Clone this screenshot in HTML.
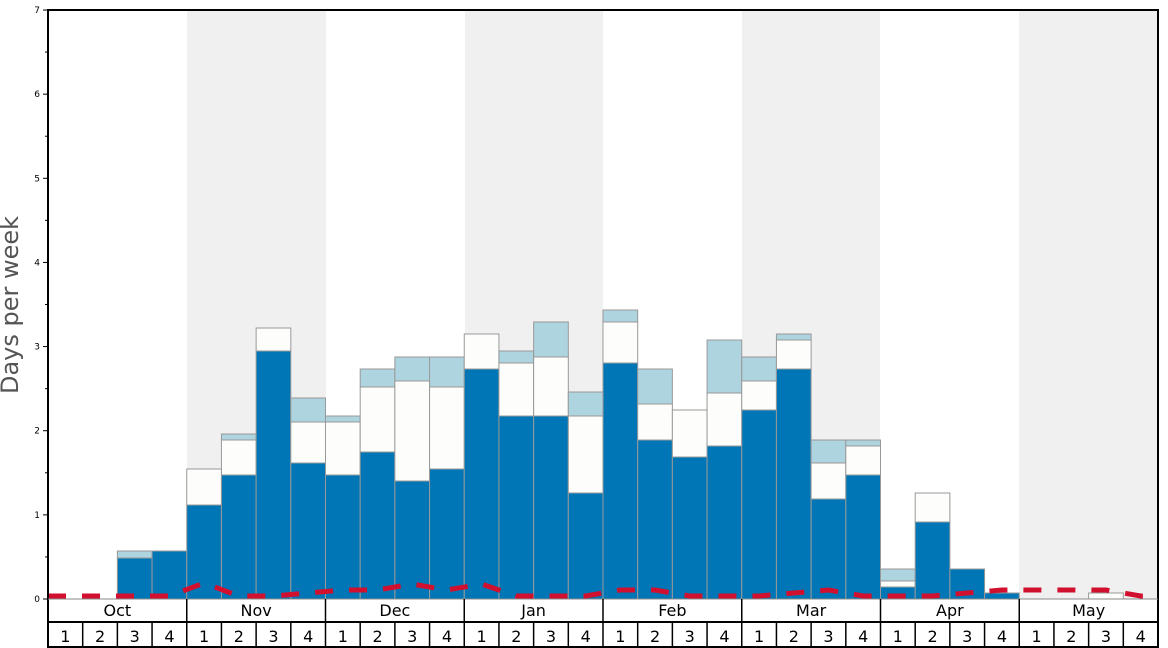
<!DOCTYPE html>
<html><head><meta charset="utf-8"><style>body{margin:0;background:#fff}svg{display:block}</style></head>
<body>
<svg width="1168" height="648" xmlns="http://www.w3.org/2000/svg" font-family="DejaVu Sans, Liberation Sans, sans-serif">
<rect width="1168" height="648" fill="#fff"/>
<g fill="#f0f0f0">
<rect x="187" y="10" width="139" height="589"/>
<rect x="465" y="10" width="138" height="589"/>
<rect x="742" y="10" width="138" height="589"/>
<rect x="1019" y="10" width="139" height="589"/>
</g>
<g id="bars" stroke="#999" stroke-width="1"></g>
<polyline id="red" fill="none" stroke="#d0102e" stroke-width="5" stroke-dasharray="18,16"/>
<rect x="48" y="10" width="1110" height="637" fill="none" stroke="#000" stroke-width="2"/>
<line x1="48" y1="599" x2="1158" y2="599" stroke="#888" stroke-width="1"/>
<line x1="48" y1="622" x2="1158" y2="622" stroke="#000" stroke-width="2"/>
<g id="grid" stroke="#000"></g>
<g id="txt" font-size="16" fill="#000" text-anchor="middle"></g>
<g id="yax" font-size="9" fill="#000" text-anchor="end"></g>
<text x="18" y="305" font-size="24" fill="#555" text-anchor="middle" transform="rotate(-90 18 305)">Days per week</text>
</svg>
<script>
var ns="http://www.w3.org/2000/svg";
function el(p,t,a,tx){var e=document.createElementNS(ns,t);for(var k in a)e.setAttribute(k,a[k]);if(tx)e.textContent=tx;document.getElementById(p).appendChild(e);}
var W=1110/32;
var d=[[0,0,0],[0,0,0],[558,558,551],[551,551,551],[505,469,469],[475,440,434],[351,328,328],[463,422,398],
[475,422,416],[452,387,369],[481,381,357],[469,387,357],[369,334,334],[416,363,351],[416,357,322],[493,416,392],
[363,322,310],[440,404,369],[457,410,410],[446,393,340],[410,381,357],[369,340,334],[499,463,440],[475,446,440],
[587,581,569],[522,493,493],[569,569,569],[593,593,593],[0,0,0],[0,0,0],[599,593,593],[0,0,0]];
for(var i=0;i<32;i++){var x=48+i*W,b=d[i];if(!b[0])continue;
if(b[2]<b[1])el("bars","rect",{x:x,y:b[2],width:W,height:b[1]-b[2],fill:"#aed4e0"});
if(b[1]<b[0])el("bars","rect",{x:x,y:b[1],width:W,height:b[0]-b[1],fill:"#fdfdfb"});
if(b[0]<599)el("bars","rect",{x:x,y:b[0],width:W,height:599-b[0],fill:"#0076b6"});}
var r=[596,596,596,596,583,596,596,593,590,590,584,590,584,596,596,596,590,590,596,596,596,593,590,596,596,596,593,590,590,590,590,596];
var pts="48,596 ";for(i=0;i<32;i++)pts+=(48+(i+.5)*W)+","+r[i]+" ";pts+="1158,596";
document.getElementById("red").setAttribute("points",pts);
var m=["Oct","Nov","Dec","Jan","Feb","Mar","Apr","May"];
for(i=0;i<8;i++){var x0=48+i*4*W;el("txt","text",{x:x0+2*W,y:616},m[i]);
if(i>0)el("grid","line",{x1:x0,y1:599,x2:x0,y2:647,"stroke-width":1.5});
for(var j=0;j<4;j++){var xx=x0+j*W;el("txt","text",{x:xx+W/2,y:642},""+(j+1));
if(j>0)el("grid","line",{x1:xx,y1:622,x2:xx,y2:647,"stroke-width":1.5});}}
for(i=0;i<=7;i++){var y=599-i*84.14;el("yax","text",{x:40,y:y+3},""+i);
el("grid","line",{x1:43,y1:y,x2:48,y2:y,"stroke-width":1});
if(i<7)el("grid","line",{x1:45,y1:y-42.07,x2:48,y2:y-42.07,"stroke-width":1});}
</script>
</body></html>
